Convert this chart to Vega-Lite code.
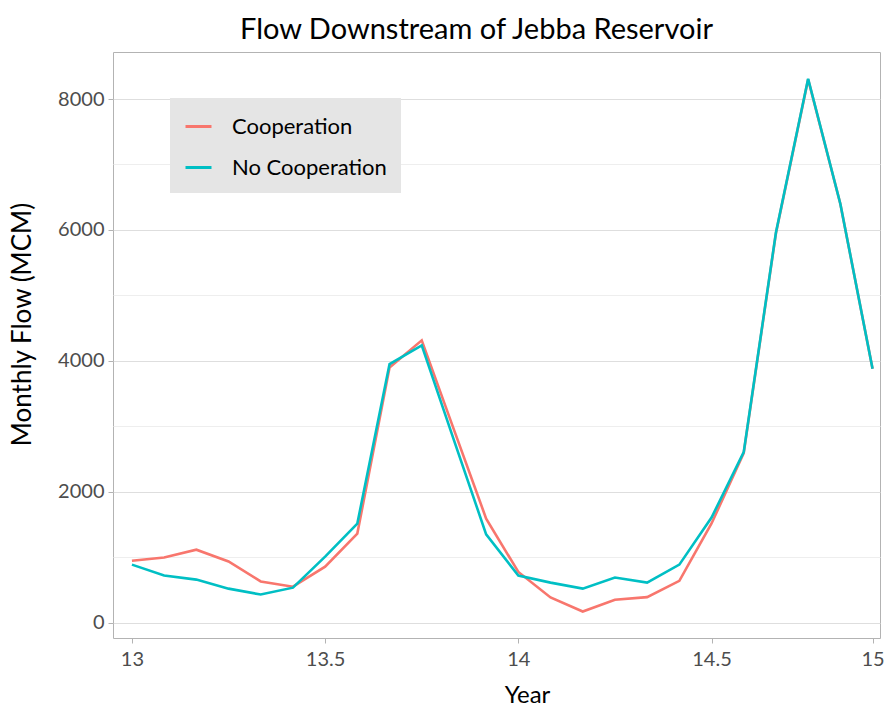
{
  "$schema": "https://vega.github.io/schema/vega-lite/v6.json",
  "width": 767,
  "height": 586,
  "autosize": {"type": "none"},
  "padding": {"left": 113, "top": 52, "right": 4, "bottom": 73},
  "background": "white",
  "config": {
    "font": "Lato",
    "view": {"stroke": "#b3b3b3", "strokeWidth": 1}
  },
  "title": {
    "text": "Flow Downstream of Jebba Reservoir",
    "anchor": "start",
    "frame": "group",
    "dx": 127,
    "fontSize": 29,
    "fontWeight": "normal",
    "color": "black",
    "offset": 7
  },
  "data": {
    "values": [
      {"year": 13.0, "scenario": "Cooperation", "flow": 945},
      {"year": 13.0833, "scenario": "Cooperation", "flow": 995},
      {"year": 13.1667, "scenario": "Cooperation", "flow": 1115},
      {"year": 13.25, "scenario": "Cooperation", "flow": 935},
      {"year": 13.3333, "scenario": "Cooperation", "flow": 630},
      {"year": 13.4167, "scenario": "Cooperation", "flow": 550},
      {"year": 13.5, "scenario": "Cooperation", "flow": 856},
      {"year": 13.5833, "scenario": "Cooperation", "flow": 1361},
      {"year": 13.6667, "scenario": "Cooperation", "flow": 3900},
      {"year": 13.75, "scenario": "Cooperation", "flow": 4313},
      {"year": 13.8333, "scenario": "Cooperation", "flow": 2950},
      {"year": 13.9167, "scenario": "Cooperation", "flow": 1590},
      {"year": 14.0, "scenario": "Cooperation", "flow": 775},
      {"year": 14.0833, "scenario": "Cooperation", "flow": 385},
      {"year": 14.1667, "scenario": "Cooperation", "flow": 170},
      {"year": 14.25, "scenario": "Cooperation", "flow": 350},
      {"year": 14.3333, "scenario": "Cooperation", "flow": 390},
      {"year": 14.4167, "scenario": "Cooperation", "flow": 640},
      {"year": 14.5, "scenario": "Cooperation", "flow": 1515},
      {"year": 14.5833, "scenario": "Cooperation", "flow": 2590},
      {"year": 14.6667, "scenario": "Cooperation", "flow": 5950},
      {"year": 14.75, "scenario": "Cooperation", "flow": 8300},
      {"year": 14.8333, "scenario": "Cooperation", "flow": 6400},
      {"year": 14.9167, "scenario": "Cooperation", "flow": 3880},
      {"year": 13.0, "scenario": "No Cooperation", "flow": 887},
      {"year": 13.0833, "scenario": "No Cooperation", "flow": 720},
      {"year": 13.1667, "scenario": "No Cooperation", "flow": 658},
      {"year": 13.25, "scenario": "No Cooperation", "flow": 520},
      {"year": 13.3333, "scenario": "No Cooperation", "flow": 430},
      {"year": 13.4167, "scenario": "No Cooperation", "flow": 535},
      {"year": 13.5, "scenario": "No Cooperation", "flow": 1010},
      {"year": 13.5833, "scenario": "No Cooperation", "flow": 1514},
      {"year": 13.6667, "scenario": "No Cooperation", "flow": 3950},
      {"year": 13.75, "scenario": "No Cooperation", "flow": 4237},
      {"year": 13.8333, "scenario": "No Cooperation", "flow": 2790},
      {"year": 13.9167, "scenario": "No Cooperation", "flow": 1350},
      {"year": 14.0, "scenario": "No Cooperation", "flow": 720},
      {"year": 14.0833, "scenario": "No Cooperation", "flow": 612},
      {"year": 14.1667, "scenario": "No Cooperation", "flow": 520},
      {"year": 14.25, "scenario": "No Cooperation", "flow": 690},
      {"year": 14.3333, "scenario": "No Cooperation", "flow": 612},
      {"year": 14.4167, "scenario": "No Cooperation", "flow": 887},
      {"year": 14.5, "scenario": "No Cooperation", "flow": 1606},
      {"year": 14.5833, "scenario": "No Cooperation", "flow": 2605},
      {"year": 14.6667, "scenario": "No Cooperation", "flow": 5960},
      {"year": 14.75, "scenario": "No Cooperation", "flow": 8310},
      {"year": 14.8333, "scenario": "No Cooperation", "flow": 6400},
      {"year": 14.9167, "scenario": "No Cooperation", "flow": 3880}
    ]
  },
  "mark": {"type": "line", "strokeWidth": 2.6},
  "encoding": {
    "x": {
      "field": "year",
      "type": "quantitative",
      "scale": {"domain": [12.951, 14.936], "nice": false, "zero": false},
      "axis": {
        "values": [13, 13.5, 14, 14.5, 14.9167],
        "labelExpr": "datum.value > 14.9 ? '15' : format(datum.value, '~g')",
        "title": "Year",
        "grid": false,
        "domain": false,
        "tickColor": "#b3b3b3",
        "tickSize": 5,
        "labelFontSize": 20,
        "labelColor": "#4d4d4d",
        "labelPadding": 6,
        "labelFlush": false,
        "labelOverlap": false,
        "titleFontSize": 24,
        "titleFontWeight": "normal",
        "titleColor": "black",
        "titleX": 414,
        "titleY": 64,
        "titleBaseline": "alphabetic"
      }
    },
    "y": {
      "field": "flow",
      "type": "quantitative",
      "scale": {"domain": [-234, 8718], "nice": false, "zero": false},
      "axis": {
        "values": [0, 1000, 2000, 3000, 4000, 5000, 6000, 7000, 8000],
        "format": "d",
        "labelExpr": "datum.value % 2000 === 0 ? datum.label : ''",
        "title": "Monthly Flow (MCM)",
        "grid": true,
        "gridColor": {"condition": {"test": "datum.value % 2000 === 0", "value": "#dedede"}, "value": "#eeeeee"},
        "gridWidth": 1.2,
        "domain": false,
        "tickColor": "#b3b3b3",
        "tickOpacity": {"condition": {"test": "datum.value % 2000 === 0", "value": 1}, "value": 0},
        "tickSize": 5,
        "labelFontSize": 20,
        "labelColor": "#4d4d4d",
        "labelPadding": 4,
        "titleFontSize": 26,
        "titleFontWeight": "normal",
        "titleColor": "black",
        "titleX": -83,
        "titleY": 272,
        "titleBaseline": "alphabetic"
      }
    },
    "color": {
      "field": "scenario",
      "type": "nominal",
      "scale": {"domain": ["Cooperation", "No Cooperation"], "range": ["#F8766D", "#00BFC4"]},
      "legend": {
        "title": null,
        "orient": "none",
        "legendX": 57,
        "legendY": 46,
        "fillColor": "#e5e5e5",
        "padding": 14,
        "symbolType": "stroke",
        "symbolSize": 676,
        "symbolStrokeWidth": 3,
        "labelFontSize": 22,
        "labelColor": "black",
        "labelOffset": 19,
        "rowPadding": 15
      }
    }
  }
}
